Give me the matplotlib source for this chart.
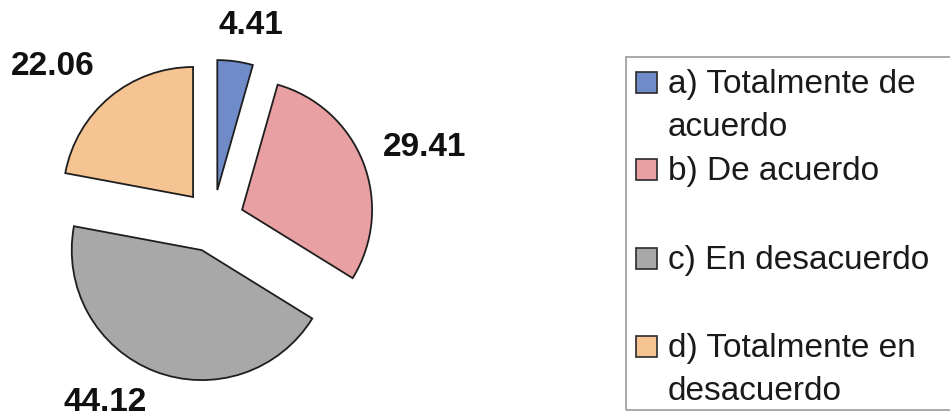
import matplotlib
matplotlib.use("Agg")
import matplotlib.pyplot as plt
import numpy as np
from matplotlib.patches import Rectangle

# data
categories = ["a) Totalmente de\nacuerdo", "b) De acuerdo", "c) En desacuerdo",
              "d) Totalmente en\ndesacuerdo"]
values = [4.41, 29.41, 44.12, 22.06]
colors = ["#6F8CC8", "#E9A0A3", "#A8A8A8", "#F6C392"]

# label placement (Excel-like "best fit" offsets), style only
label_dist = [1.29, 1.485, 1.39, 1.47]
label_turn = [-3.7, -2.5, -11.2, 7.4]

W, H = 950, 420
R = 130.0          # pie radius in px
CX, CY = 213, 199  # pie centre in px (from bottom-left)

plt.rcParams["font.family"] = ["Liberation Sans", "DejaVu Sans"]

fig = plt.figure(figsize=(W / 100, H / 100), dpi=100)
fig.patch.set_facecolor("white")
ax = fig.add_axes([0, 0, 1, 1])

wedges, _ = ax.pie(values, colors=colors, explode=[0.24] * len(values),
                   startangle=90, counterclock=False, radius=1, center=(0, 0),
                   wedgeprops=dict(edgecolor="#1e1e1e", linewidth=1.3))
ax.set_xlim(-CX / R, (W - CX) / R)
ax.set_ylim(-CY / R, (H - CY) / R)
ax.set_aspect("equal")
ax.axis("off")

for w, v, d, t in zip(wedges, values, label_dist, label_turn):
    ang = np.deg2rad((w.theta1 + w.theta2) / 2 + t)
    cx, cy = w.center
    ax.text(cx + d * w.r * np.cos(ang), cy + d * w.r * np.sin(ang), f"{v:.2f}",
            ha="center", va="center", fontsize=24, fontweight="bold",
            color="#111111")

# legend, drawn by hand to mimic the Excel box
def fx(x):
    return x / W

def fy(y):
    return 1 - y / H

fig.add_artist(Rectangle((fx(626), fy(410)), fx(1000) - fx(626), fy(57) - fy(410),
                         transform=fig.transFigure, facecolor="none",
                         edgecolor="#9a9a9a", linewidth=1.2, clip_on=False))

baselines = [93, 180, 269, 357]
pitch = 43
for lab, col, yb in zip(categories, colors, baselines):
    fig.add_artist(Rectangle((fx(636), fy(yb)), fx(657) - fx(636), fy(yb - 21) - fy(yb),
                             transform=fig.transFigure, facecolor=col,
                             edgecolor="#2a2a2a", linewidth=1.2))
    for i, line in enumerate(lab.split("\n")):
        fig.text(fx(668), fy(yb + i * pitch), line, ha="left", va="baseline",
                 fontsize=24, color="#1a1a1a")

fig.savefig("out.png", dpi=100, facecolor="white")
